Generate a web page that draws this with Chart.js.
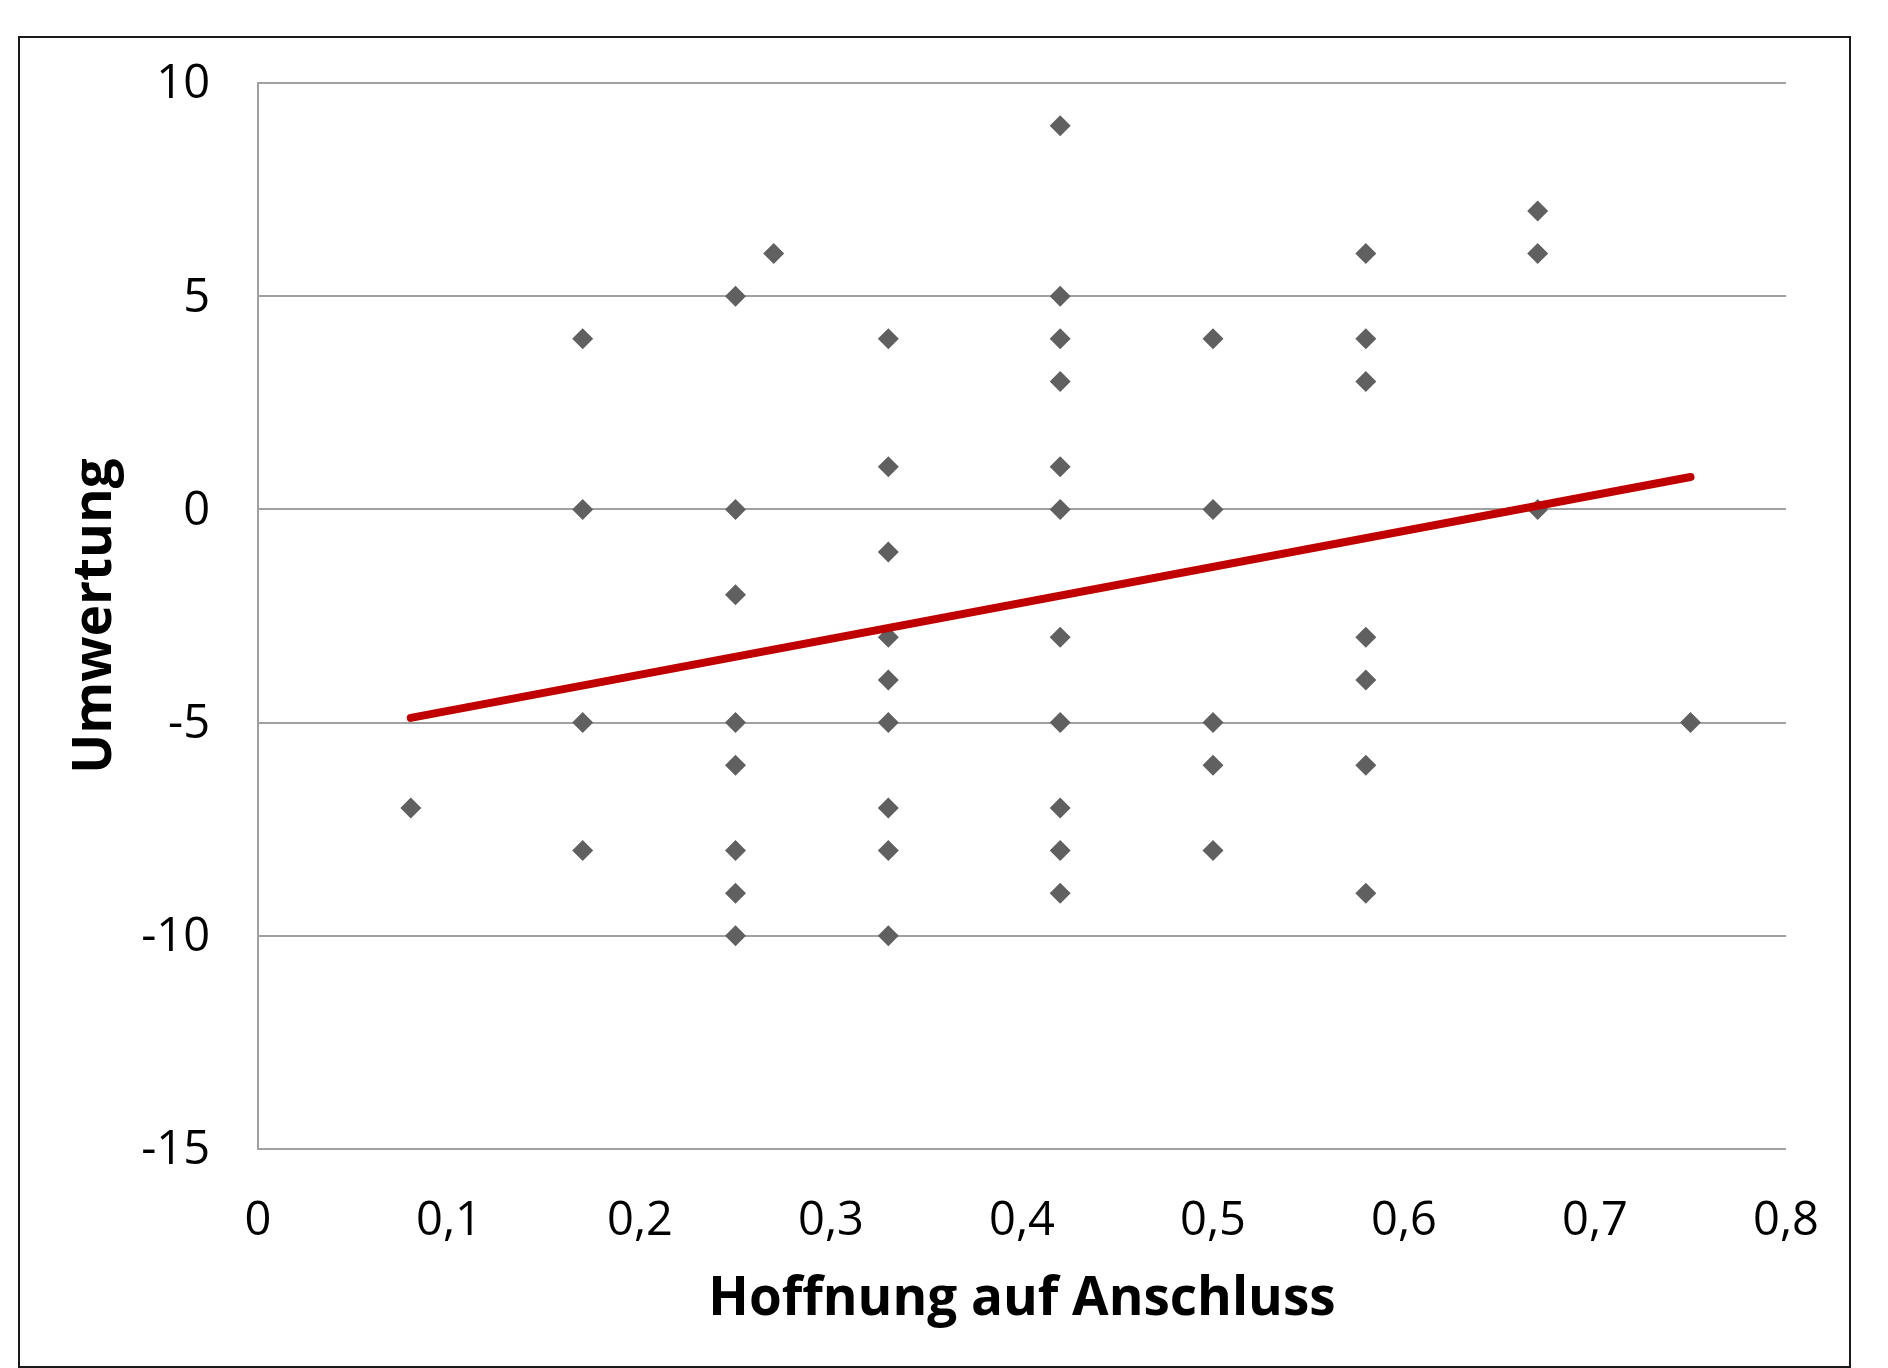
<!DOCTYPE html>
<html>
<head>
<meta charset="utf-8">
<script src="https://cdn.jsdelivr.net/npm/chart.js@4"></script>
<style>
  body { margin: 0; background: #fff; }
  #frame { position: absolute; left: 18px; top: 36px; width: 1829px; height: 1328px; border: 2px solid #1a1a1a; }
  #wrap { position: absolute; left: 0; top: 0; width: 1888px; height: 1368px; }
</style>
</head>
<body>
<div id="frame"></div>
<div id="wrap"><canvas id="scatter"></canvas></div>
<script>
// data
const hoffnung = [
  0.08,
  0.17, 0.17, 0.17, 0.17,
  0.25, 0.25, 0.25, 0.25, 0.25, 0.25, 0.25, 0.25,
  0.27,
  0.33, 0.33, 0.33, 0.33, 0.33, 0.33, 0.33, 0.33, 0.33,
  0.42, 0.42, 0.42, 0.42, 0.42, 0.42, 0.42, 0.42, 0.42, 0.42, 0.42,
  0.5, 0.5, 0.5, 0.5, 0.5,
  0.58, 0.58, 0.58, 0.58, 0.58, 0.58, 0.58,
  0.67, 0.67, 0.67,
  0.75
];
const umwertung = [
  -7,
  4, 0, -5, -8,
  5, 0, -2, -5, -6, -8, -9, -10,
  6,
  4, 1, -1, -3, -4, -5, -7, -8, -10,
  9, 5, 4, 3, 1, 0, -3, -5, -7, -8, -9,
  4, 0, -5, -6, -8,
  6, 4, 3, -3, -4, -6, -9,
  7, 6, 0,
  -5
];
const trendX = [0.08, 0.75];
const trendY = [-4.89, 0.76];

const xTicks = [0, 0.1, 0.2, 0.3, 0.4, 0.5, 0.6, 0.7, 0.8];
const yTicks = [-15, -10, -5, 0, 5, 10];

const gridColor = '#a0a0a0';
const fontFamily = '"Open Sans", sans-serif';

const points = hoffnung.map((x, i) => ({ x: x, y: umwertung[i] }));
const trend = trendX.map((x, i) => ({ x: x, y: trendY[i] }));

const scatterCanvas = document.getElementById('scatter');

let scatterChart = new Chart(scatterCanvas, {
  type: 'scatter',
  data: {
    datasets: [{
      type: 'line',
      data: trend,
      borderColor: '#c00000',
      borderWidth: 8,
      borderCapStyle: 'round',
      pointRadius: 0,
      fill: false,
      order: 0
    }, {
      data: points,
      pointStyle: 'rectRot',
      pointRadius: 10.5,
      backgroundColor: '#606060',
      borderWidth: 0,
      order: 1
    }]
  },
  options: {
    responsive: true,
    maintainAspectRatio: false,
    animation: false,
    layout: {
      padding: { left: 0, top: 83, right: 102, bottom: 0 }
    },
    plugins: {
      legend: { display: false },
      tooltip: { enabled: false }
    },
    scales: {
      x: {
        type: 'linear',
        min: xTicks[0],
        max: xTicks[xTicks.length - 1],
        afterBuildTicks: scale => { scale.ticks = xTicks.map(v => ({ value: v })); },
        afterFit: scale => { scale.height = 219; },
        grid: { display: false },
        border: { display: false },
        ticks: {
          padding: 36,
          color: '#000',
          font: { family: fontFamily, size: 47 },
          callback: v => v === 0 ? '0' : v.toFixed(1).replace('.', ',')
        },
        title: {
          display: true,
          text: 'Hoffnung auf Anschluss',
          color: '#000',
          font: { family: fontFamily, size: 53, weight: 'bold' },
          padding: { bottom: 36 }
        }
      },
      y: {
        type: 'linear',
        min: yTicks[0],
        max: yTicks[yTicks.length - 1],
        afterBuildTicks: scale => { scale.ticks = yTicks.map(v => ({ value: v })); },
        afterFit: scale => { scale.width = 258; },
        grid: { color: gridColor, lineWidth: 2, drawTicks: false },
        border: { display: true, color: gridColor, width: 2 },
        ticks: {
          padding: 48,
          labelOffset: 2,
          color: '#000',
          font: { family: fontFamily, size: 47 },
          callback: v => String(v)
        },
        title: {
          display: true,
          text: 'Umwertung',
          color: '#000',
          font: { family: fontFamily, size: 53, weight: 'bold' },
          padding: { top: 64 }
        }
      }
    }
  }
});
</script>
</body>
</html>
